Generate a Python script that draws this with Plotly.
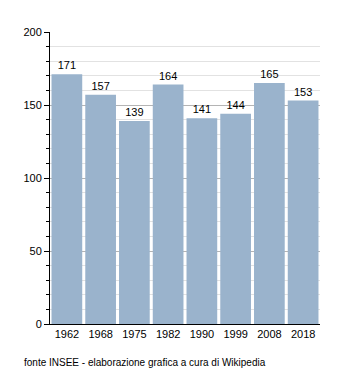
import plotly.graph_objects as go

years = ["1962", "1968", "1975", "1982", "1990", "1999", "2008", "2018"]
population = [171, 157, 139, 164, 141, 144, 165, 153]
source_text = "fonte INSEE - elaborazione grafica a cura di Wikipedia"

fig = go.Figure(go.Bar(
    x=years, y=population,
    marker=dict(color="#9ab3cc", line=dict(width=0)),
    text=[str(v) for v in population],
    textposition="outside",
    textfont=dict(size=11, color="black"),
    cliponaxis=False,
))

fig.update_layout(
    width=350, height=373,
    margin=dict(l=50, r=30, t=32, b=49),
    paper_bgcolor="white", plot_bgcolor="white",
    font=dict(family="Liberation Sans, Arial, sans-serif", size=11, color="black"),
    bargap=0.09,
    showlegend=False,
    xaxis=dict(
        type="category", showline=True, linecolor="black", linewidth=1,
        ticks="", showgrid=False, tickfont=dict(size=11),
    ),
    yaxis=dict(
        range=[0, 200], tickvals=[0, 50, 100, 150, 200],
        showline=True, linecolor="black", linewidth=1,
        ticks="outside", ticklen=5, tickcolor="black",
        showgrid=True, gridcolor="#b4b4b4", gridwidth=1,
        zeroline=False, tickfont=dict(size=11),
        minor=dict(dtick=10, ticks="outside", ticklen=3, tickcolor="black",
                   showgrid=True, gridcolor="#e2e2e2", gridwidth=1),
    ),
    annotations=[dict(
        text=source_text, xref="paper", yref="paper",
        x=(22 - 50) / 270, y=(324 - 362) / 292,
        xanchor="left", yanchor="middle", showarrow=False,
        font=dict(size=10, color="black"),
    )],
)

fig.write_html("out.html")
